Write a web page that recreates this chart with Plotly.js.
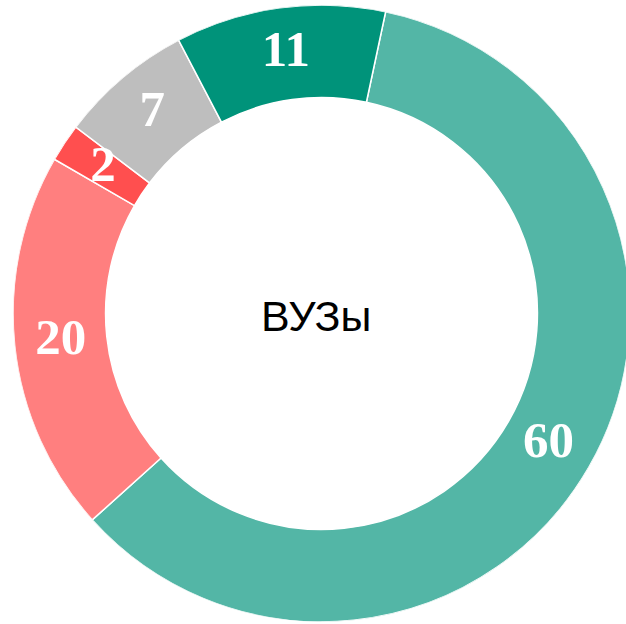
<!DOCTYPE html>
<html>
<head>
<meta charset="utf-8">
<script src="https://cdn.plot.ly/plotly-3.0.1.min.js"></script>
<style>
html, body { margin: 0; padding: 0; overflow: hidden; background: #fff; }
#chart { width: 643px; height: 624px; }
</style>
</head>
<body>
<div id="chart"></div>
<script>
const categories = ["A", "B", "C", "D", "E"];
const values = [60, 20, 2, 7, 11];
const colors = ["#53b6a6", "#ff7f7f", "#ff4f4f", "#bebebe", "#00937a"];
const centerLabel = "ВУЗы";

const total = values.reduce((a, b) => a + b, 0);
const widths = values.map(v => v * 360 / total);
const mids = [];
let acc = 0;
widths.forEach(w => { mids.push(acc + w / 2); acc += w; });

const HOLE = 0.70;
const RING = 1 - HOLE;

Plotly.newPlot("chart", [{
  type: "barpolar",
  theta: mids,
  width: widths,
  r: values.map(() => RING),
  base: values.map(() => HOLE),
  marker: { color: colors, line: { color: "#ffffff", width: 1.5 } },
  hoverinfo: "none",
  showlegend: false
}, {
  type: "scatterpolar",
  mode: "text",
  theta: mids,
  r: values.map(() => HOLE + RING / 2),
  text: values.map(String),
  textposition: "middle center",
  textfont: { family: "Liberation Serif, Times New Roman, serif", size: 51, color: "#ffffff", weight: "bold" },
  hoverinfo: "none",
  showlegend: false
}], {
  width: 643,
  height: 624,
  margin: { l: 0, r: 0, t: 5, b: 2, pad: 0 },
  paper_bgcolor: "#ffffff",
  showlegend: false,
  polar: {
    domain: { x: [0, 1], y: [0, 1] },
    bgcolor: "rgba(0,0,0,0)",
    radialaxis: { range: [0, 1], visible: false, showgrid: false, showline: false, showticklabels: false, ticks: "" },
    angularaxis: { rotation: 78, direction: "clockwise", visible: false, showgrid: false, showline: false, showticklabels: false, ticks: "" }
  },
  annotations: [{
    text: centerLabel,
    x: 316 / 643, y: 0.5, xref: "paper", yref: "paper",
    xanchor: "center", yanchor: "middle",
    yshift: -2,
    showarrow: false,
    font: { family: "Liberation Sans, Arial, sans-serif", size: 43, color: "#000000" }
  }]
}, { displayModeBar: false, staticPlot: true });
</script>
</body>
</html>
